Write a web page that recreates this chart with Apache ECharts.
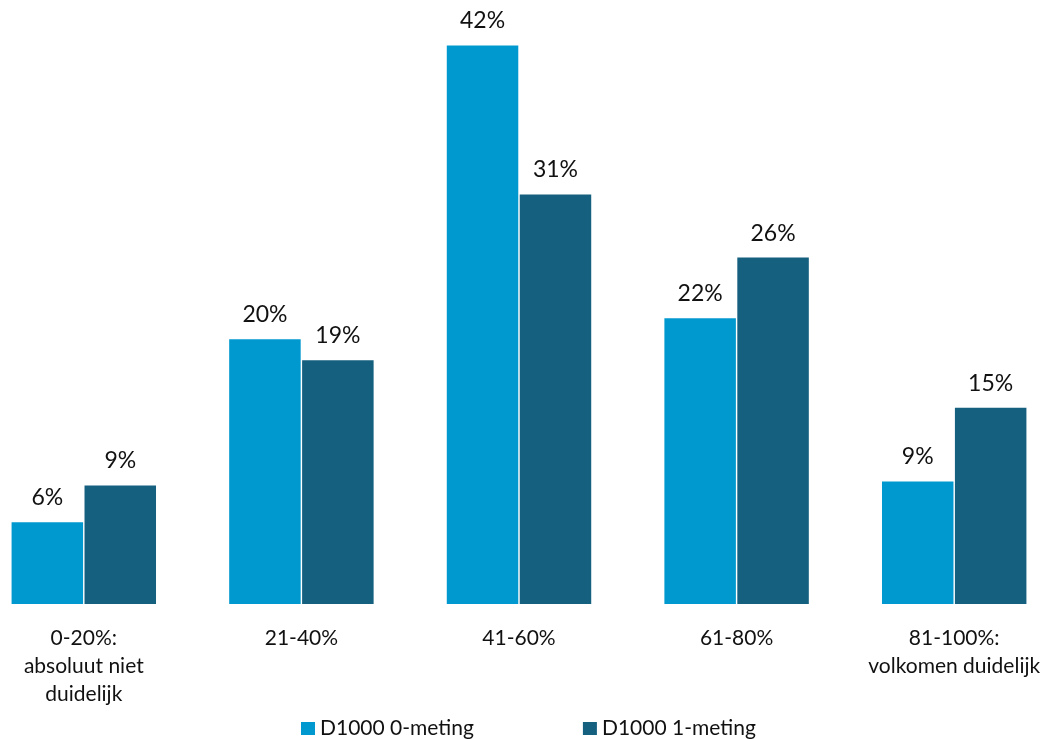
<!DOCTYPE html>
<html><head><meta charset="utf-8">
<script src="https://cdn.jsdelivr.net/npm/echarts@6/dist/echarts.min.js"></script>
<style>html,body{margin:0;padding:0;background:#fff;overflow:hidden}#w{width:1054px;height:739px;overflow:hidden;position:relative}#c{position:absolute;left:-25px;top:0;width:1088px;height:739px}</style>
</head><body><div id="w"><div id="c"></div></div>
<script>
var categories = ['0-20%:\nabsoluut niet\nduidelijk', '21-40%', '41-60%', '61-80%', '81-100%:\nvolkomen duidelijk'];
var seriesNames = ['D1000 0-meting', 'D1000 1-meting'];
var values0 = [6.2, 20.1, 42.4, 21.7, 9.3];
var values1 = [9.0, 18.5, 31.1, 26.3, 14.9];
var colors = ['#0099cf', '#155f7f'];
var font = 'Lato';
var chart = echarts.init(document.getElementById('c'));
function mk(name, data, color) {
  return {
    name: name, type: 'bar', data: data, barWidth: 71.5, barGap: '2%',
    itemStyle: { color: color },
    label: { show: true, position: 'top', distance: 13, formatter: function (p) { return Math.round(p.value) + '%'; }, color: '#111', fontSize: 23, fontFamily: font }
  };
}
chart.setOption({
  animation: false,
  color: colors,
  grid: { left: 0, right: 0, top: 0, bottom: 135, containLabel: false },
  xAxis: {
    type: 'category', data: categories,
    axisLine: { show: false }, axisTick: { show: false },
    axisLabel: { color: '#111', fontSize: 21, fontFamily: font, lineHeight: 28, margin: 20, interval: 0 }
  },
  yAxis: { type: 'value', min: 0, max: 45.86, show: false, splitLine: { show: false } },
  legend: {
    top: 713, left: 321, itemWidth: 14, itemHeight: 13, itemGap: 109, icon: 'rect',
    textStyle: { color: '#111', fontSize: 21, fontFamily: font }
  },
  series: [mk(seriesNames[0], values0, colors[0]), mk(seriesNames[1], values1, colors[1])]
});
</script></body></html>
